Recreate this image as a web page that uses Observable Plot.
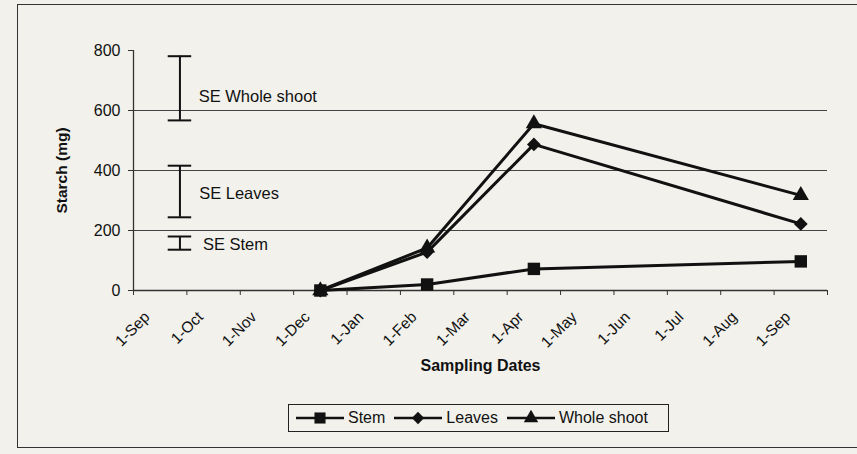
<!DOCTYPE html>
<html>
<head>
<meta charset="utf-8">
<script src="https://cdn.jsdelivr.net/npm/d3@7"></script>
<script src="https://cdn.jsdelivr.net/npm/@observablehq/plot@0.6"></script>
<style>
  html, body { margin: 0; padding: 0; background: #f2f1ec; }
  #wrap { position: relative; width: 857px; height: 454px; overflow: hidden; font-family: "Liberation Sans", Arial, sans-serif; color: #111; }
  #border { position: absolute; left: 17px; top: 4px; width: 900px; height: 444px; border: 1.5px solid #333; box-sizing: border-box; }
  #chart { position: absolute; left: 0; top: 0; }
  #legend { position: absolute; left: 288px; top: 404px; width: 381px; height: 28px; border: 1.5px solid #222; box-sizing: border-box;
            display: flex; align-items: center; padding-left: 7px; font-size: 16px; }
  .item { display: flex; align-items: center; margin-right: 9px; }
  .item svg { margin-right: 4px; }
</style>
</head>
<body>
<div id="wrap">
  <div id="border"></div>
  <div id="chart"></div>
  <div id="legend"></div>
</div>
<script>
// ---- data ----
const monthLabels = ["1-Sep","1-Oct","1-Nov","1-Dec","1-Jan","1-Feb","1-Mar","1-Apr","1-May","1-Jun","1-Jul","1-Aug","1-Sep"];
const sampleMonth = [3, 5, 7, 12];            // index into monthLabels (Dec, Feb, Apr, Sep)
const stem       = [0, 20, 72, 97];
const leaves     = [0, 128, 487, 222];
const wholeShoot = [0, 142, 556, 317];
const seriesNames = ["Stem", "Leaves", "Whole shoot"];
const seriesSymbols = ["square", "diamond2", "triangle"];
const seriesR = [7, 6.2, 6];
const seNames = ["SE Whole shoot", "SE Leaves", "SE Stem"];
const seLow   = [567, 244, 136];
const seHigh  = [781, 416, 180];
const seLabelY = [647, 323, 153];
const seX = 0.37;        // horizontal position of the SE bars (month units)
const seLabelX = [0.72, 0.73, 0.8];
const yTicks = [0, 200, 400, 600, 800];

const seriesValues = [stem, leaves, wholeShoot];
const table = seriesNames.flatMap((s, k) => sampleMonth.map((m, i) => ({series: s, month: m, value: seriesValues[k][i]})));
const seTable = seNames.map((n, i) => ({name: n, lo: seLow[i], hi: seHigh[i], ly: seLabelY[i], lx: seLabelX[i]}));
const monthIdx = d3.range(monthLabels.length);

const ink = "#111";
const drawOrder = [2, 1, 0]; // whole shoot first, stem on top
const chart = Plot.plot({
  width: 857, height: 454,
  marginLeft: 133, marginRight: 30, marginTop: 50, marginBottom: 164,
  x: {domain: [-0.5, 12.5]},
  y: {domain: [0, 800]},
  style: {background: "transparent", fontFamily: "'Liberation Sans', Arial, sans-serif", color: ink, overflow: "visible"},
  marks: [
    Plot.ruleY([200, 400, 600], {stroke: "#444", strokeWidth: 1.2}),
    Plot.ruleX([-0.5], {stroke: "#333", strokeWidth: 1.3}),
    Plot.ruleY([0], {stroke: "#333", strokeWidth: 1.3}),
    Plot.axisY({ticks: yTicks, tickSize: 5, tickPadding: 8, fontSize: 16, label: null, stroke: "#333"}),
    Plot.axisX({ticks: d3.range(-0.5, 13, 1), tickSize: 5, tickFormat: () => "", label: null, stroke: "#333"}),
    Plot.text(monthIdx, {x: d => d, text: d => monthLabels[d], frameAnchor: "bottom", rotate: -45,
                textAnchor: "end", lineAnchor: "middle", dx: -13, dy: 24, fontSize: 15.5, fill: ink}),
    Plot.text(["Starch (mg)"], {frameAnchor: "left", textAnchor: "middle", dx: -71, rotate: -90, fontWeight: "bold", fontSize: 15.5, fill: ink}),
    Plot.text(["Sampling Dates"], {frameAnchor: "bottom", textAnchor: "middle", dy: 80, fontWeight: "bold", fontSize: 16, fill: ink}),
    // SE bars
    Plot.ruleX(seTable, {x: () => seX, y1: "lo", y2: "hi", stroke: ink, strokeWidth: 2}),
    Plot.ruleY(seTable, {y: "lo", x1: () => seX - 0.22, x2: () => seX + 0.22, stroke: ink, strokeWidth: 2}),
    Plot.ruleY(seTable, {y: "hi", x1: () => seX - 0.22, x2: () => seX + 0.22, stroke: ink, strokeWidth: 2}),
    Plot.text(seTable, {x: "lx", y: "ly", text: "name", textAnchor: "start", fontSize: 16.5, fill: ink}),
    // series
    ...drawOrder.map(k => Plot.line(table.filter(d => d.series === seriesNames[k]),
        {x: "month", y: "value", stroke: ink, strokeWidth: 3})),
    ...drawOrder.map(k => Plot.dot(table.filter(d => d.series === seriesNames[k]),
        {x: "month", y: "value", symbol: () => seriesSymbols[k], r: seriesR[k], fill: ink, stroke: "none"}))
  ]
});
document.getElementById("chart").appendChild(chart);

// legend
const legend = d3.select("#legend");
seriesNames.forEach((s, k) => {
  const item = legend.append("div").attr("class", "item");
  const svg = item.append("svg").attr("width", 48).attr("height", 20);
  svg.append("line").attr("x1", 0).attr("x2", 48).attr("y1", 10).attr("y2", 10).attr("stroke", ink).attr("stroke-width", 2.5);
  const sym = {square: d3.symbolSquare, diamond2: d3.symbolDiamond2, triangle: d3.symbolTriangle}[seriesSymbols[k]];
  svg.append("path").attr("transform", "translate(24,10)")
     .attr("d", d3.symbol(sym, Math.PI * seriesR[k] * seriesR[k] * 0.8)()).attr("fill", ink);
  item.append("span").text(s);
});
</script>
</body>
</html>
